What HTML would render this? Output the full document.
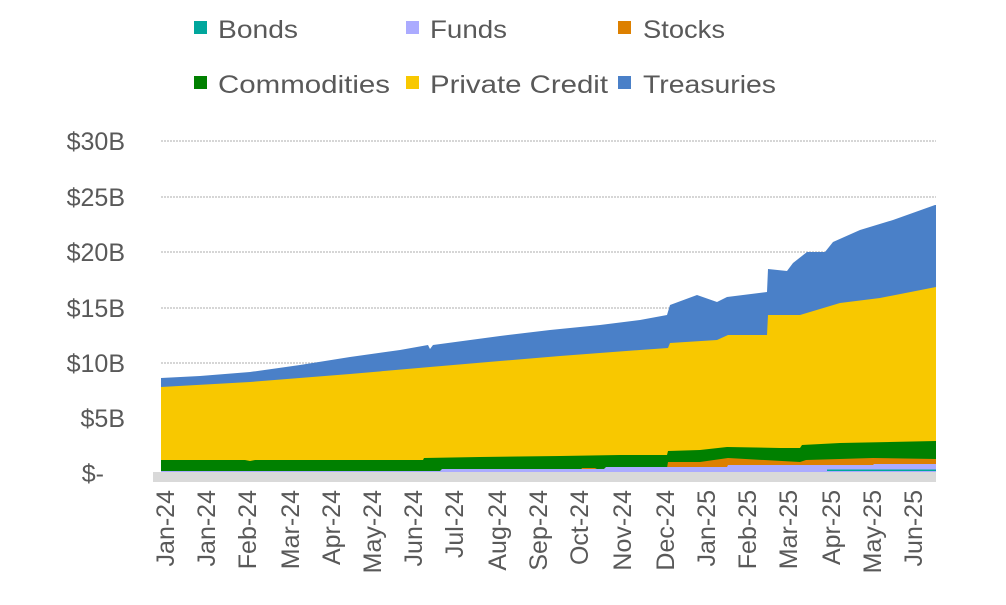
<!DOCTYPE html>
<html><head><meta charset="utf-8"><style>
html,body{margin:0;padding:0;background:#fff;}
svg{display:block;font-family:"Liberation Sans",sans-serif;}
</style></head><body>
<svg width="1006" height="605" viewBox="0 0 1006 605" xmlns="http://www.w3.org/2000/svg">
<rect width="1006" height="605" fill="#fff"/>
<g font-size="25" fill="#595959">
<rect x="194" y="21" width="13" height="13" fill="#00A69C"/><text x="218" y="38" textLength="80" lengthAdjust="spacingAndGlyphs">Bonds</text>
<rect x="406" y="21" width="13" height="13" fill="#ABABFF"/><text x="430" y="38" textLength="77" lengthAdjust="spacingAndGlyphs">Funds</text>
<rect x="618" y="21" width="13" height="13" fill="#DD8000"/><text x="643" y="38" textLength="82" lengthAdjust="spacingAndGlyphs">Stocks</text>
<rect x="194" y="76" width="13" height="13" fill="#008000"/><text x="218" y="93" textLength="172" lengthAdjust="spacingAndGlyphs">Commodities</text>
<rect x="406" y="76" width="13" height="13" fill="#F8C800"/><text x="430" y="93" textLength="178" lengthAdjust="spacingAndGlyphs">Private Credit</text>
<rect x="618" y="76" width="13" height="13" fill="#4A80C8"/><text x="643" y="93" textLength="133" lengthAdjust="spacingAndGlyphs">Treasuries</text>
</g>
<g stroke="#C8C8C8" stroke-width="1.5" stroke-dasharray="2,1">
<line x1="161" y1="141" x2="936" y2="141"/><line x1="161" y1="197" x2="936" y2="197"/>
<line x1="161" y1="252" x2="936" y2="252"/><line x1="161" y1="308" x2="936" y2="308"/>
<line x1="161" y1="363" x2="936" y2="363"/><line x1="161" y1="418" x2="936" y2="418"/>
</g>
<g font-size="25" fill="#595959" text-anchor="end">
<text x="125" y="150">$30B</text><text x="125" y="206">$25B</text><text x="125" y="261">$20B</text>
<text x="125" y="317">$15B</text><text x="125" y="372">$10B</text><text x="125" y="427">$5B</text>
<text x="104" y="482">$-</text>
</g>
<polygon fill="#4A80C8" points="161,472 161,378 200,376 250,372 300,365 350,357 400,350 428,345 430,349 433,345 500,336 550,330 600,325 640,320 667,315 670,305 697,295 717,302 727,297 767,292 768,269 787,271 793,263 807,252 825,252 833,242 860,230 893,220 935,205 936,205 936,472"/>
<polygon fill="#F8C800" points="161,472 161,387 250,382 350,374 430,367 500,361 560,356 640,350 668,348 670,343 717,340 728,335 767,335 768,315 800,315 840,303 880,298 936,287 936,472"/>
<polygon fill="#008000" points="161,472 161,460 245,460 250,461 255,460 423,460 424,458 480,457 560,456 620,455 667,455 668,451 700,450 727,447 780,448 800,448 802,445 840,443 936,441 936,472"/>
<polygon fill="#DD8000" points="161,472 161,471 580,471 582,468 595,468 597,469 667,468 668,462 700,462 728,458 800,462 806,460 873,458 936,459 936,472"/>
<polygon fill="#ABABFF" points="161,472 161,471 440,471 442,469 604,469 606,467 727,467 728,465 873,465 874,464 936,464 936,472"/>
<rect x="827" y="469.5" width="109" height="1.5" fill="#00A69C"/>
<rect x="153" y="472" width="783" height="10" fill="#D9D9D9"/>
<g font-size="25" fill="#595959" text-anchor="end">
<text transform="translate(174,490) rotate(-90)">Jan-24</text>
<text transform="translate(215,490) rotate(-90)">Jan-24</text>
<text transform="translate(256,490) rotate(-90)">Feb-24</text>
<text transform="translate(299,490) rotate(-90)">Mar-24</text>
<text transform="translate(340,490) rotate(-90)">Apr-24</text>
<text transform="translate(381,490) rotate(-90)">May-24</text>
<text transform="translate(422,490) rotate(-90)">Jun-24</text>
<text transform="translate(463,490) rotate(-90)">Jul-24</text>
<text transform="translate(506,490) rotate(-90)">Aug-24</text>
<text transform="translate(547,490) rotate(-90)">Sep-24</text>
<text transform="translate(588,490) rotate(-90)">Oct-24</text>
<text transform="translate(631,490) rotate(-90)">Nov-24</text>
<text transform="translate(674,490) rotate(-90)">Dec-24</text>
<text transform="translate(715,490) rotate(-90)">Jan-25</text>
<text transform="translate(756,490) rotate(-90)">Feb-25</text>
<text transform="translate(797,490) rotate(-90)">Mar-25</text>
<text transform="translate(840,490) rotate(-90)">Apr-25</text>
<text transform="translate(881,490) rotate(-90)">May-25</text>
<text transform="translate(922,490) rotate(-90)">Jun-25</text>
</g>
</svg>
</body></html>
